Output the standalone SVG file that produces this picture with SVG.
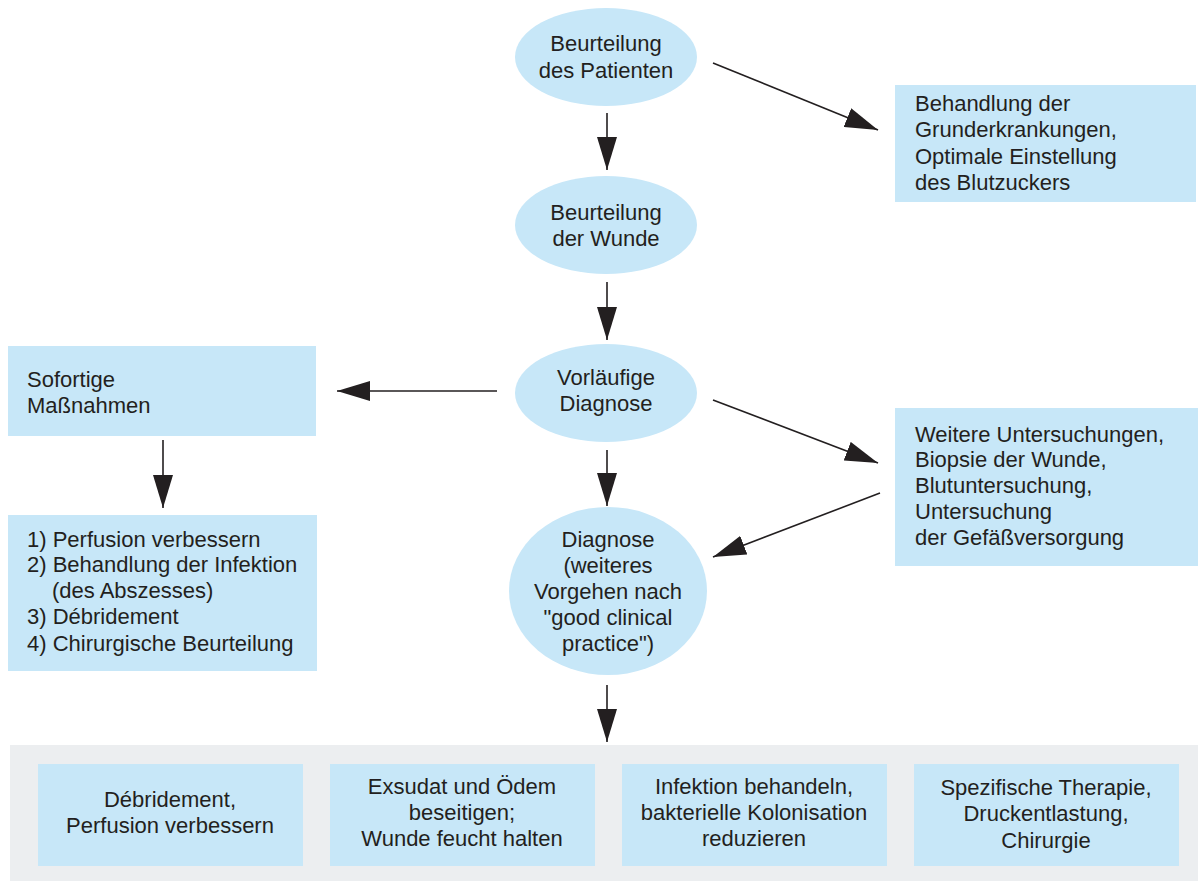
<svg xmlns="http://www.w3.org/2000/svg" width="1198" height="881" viewBox="0 0 1198 881">
<style>
.n{fill:#c7e7f8}
.t{font-family:"Liberation Sans",Arial,sans-serif;font-size:22px;fill:#231f20}
.c{text-anchor:middle}
.a{stroke:#231f20;stroke-width:1.6;fill:none;marker-end:url(#ah)}
</style>
<defs>
<marker id="ah" viewBox="0 0 33 20" markerWidth="33" markerHeight="20" refX="33" refY="10" orient="auto" markerUnits="userSpaceOnUse">
<path d="M0,0 L33,10 L0,20 Z" fill="#231f20"/>
</marker>
</defs>
<rect x="0" y="0" width="1198" height="881" fill="#ffffff"/>
<g id="panel"><rect x="10" y="745" width="1188" height="136" fill="#eceef0"/></g>
<g id="connectors">
<line class="a" x1="607" y1="113" x2="607" y2="170"/>
<line class="a" x1="713" y1="63" x2="878" y2="130"/>
<line class="a" x1="607" y1="282" x2="607" y2="340"/>
<line class="a" x1="497" y1="391" x2="337" y2="391"/>
<line class="a" x1="713" y1="400" x2="878" y2="463"/>
<line class="a" x1="607" y1="450" x2="607" y2="506"/>
<line class="a" x1="880" y1="493" x2="713" y2="557"/>
<line class="a" x1="607" y1="685" x2="607" y2="742"/>
<line class="a" x1="163" y1="440" x2="163" y2="508"/>
</g>
<g id="n1"><ellipse class="n" cx="606" cy="57" rx="91" ry="49"/>
<text class="t c" x="606" y="51">Beurteilung</text><text class="t c" x="606" y="78">des Patienten</text></g>
<g id="n2"><ellipse class="n" cx="606" cy="225" rx="91" ry="49"/>
<text class="t c" x="606" y="220">Beurteilung</text><text class="t c" x="606" y="246">der Wunde</text></g>
<g id="n3"><ellipse class="n" cx="606" cy="393" rx="91" ry="49"/>
<text class="t c" x="606" y="385">Vorläufige</text><text class="t c" x="606" y="411">Diagnose</text></g>
<g id="n4"><ellipse class="n" cx="608" cy="591" rx="99" ry="84"/>
<text class="t c" x="608" y="547">Diagnose</text><text class="t c" x="608" y="573">(weiteres</text><text class="t c" x="608" y="599">Vorgehen nach</text><text class="t c" x="608" y="625">"good clinical</text><text class="t c" x="608" y="651">practice")</text></g>
<g id="n5"><rect class="n" x="895" y="85" width="301" height="117"/>
<text class="t" x="915" y="111">Behandlung der</text><text class="t" x="915" y="137">Grunderkrankungen,</text><text class="t" x="915" y="164">Optimale Einstellung</text><text class="t" x="915" y="190">des Blutzuckers</text></g>
<g id="n6"><rect class="n" x="895" y="408" width="303" height="158"/>
<text class="t" x="915" y="442">Weitere Untersuchungen,</text><text class="t" x="915" y="467">Biopsie der Wunde,</text><text class="t" x="915" y="493">Blutuntersuchung,</text><text class="t" x="915" y="519">Untersuchung</text><text class="t" x="915" y="545">der Gefäßversorgung</text></g>
<g id="n7"><rect class="n" x="8" y="346" width="308" height="90"/>
<text class="t" x="27" y="387">Sofortige</text><text class="t" x="27" y="413">Maßnahmen</text></g>
<g id="n8"><rect class="n" x="8" y="515" width="309" height="156"/>
<text class="t" x="27" y="547">1) Perfusion verbessern</text><text class="t" x="27" y="572">2) Behandlung der Infektion</text><text class="t" x="52" y="598">(des Abszesses)</text><text class="t" x="27" y="624">3) Débridement</text><text class="t" x="27" y="651">4) Chirurgische Beurteilung</text></g>
<g id="b1"><rect class="n" x="38" y="764" width="265" height="102"/>
<text class="t c" x="170" y="807">Débridement,</text><text class="t c" x="170" y="833">Perfusion verbessern</text></g>
<g id="b2"><rect class="n" x="330" y="764" width="265" height="102"/>
<text class="t c" x="462" y="794">Exsudat und Ödem</text><text class="t c" x="462" y="820">beseitigen;</text><text class="t c" x="462" y="846">Wunde feucht halten</text></g>
<g id="b3"><rect class="n" x="622" y="764" width="265" height="102"/>
<text class="t c" x="754" y="794">Infektion behandeln,</text><text class="t c" x="754" y="820">bakterielle Kolonisation</text><text class="t c" x="754" y="846">reduzieren</text></g>
<g id="b4"><rect class="n" x="914" y="764" width="265" height="102"/>
<text class="t c" x="1046" y="795">Spezifische Therapie,</text><text class="t c" x="1046" y="821">Druckentlastung,</text><text class="t c" x="1046" y="848">Chirurgie</text></g>
</svg>
